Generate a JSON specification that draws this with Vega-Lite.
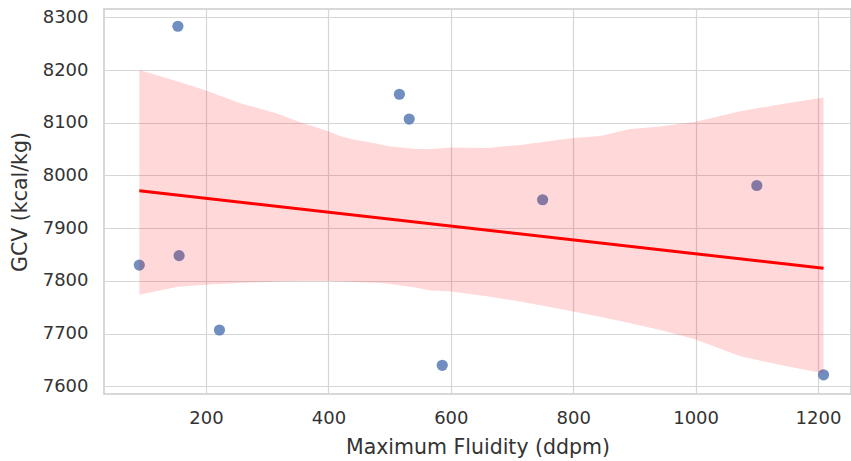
{
  "$schema": "https://vega.github.io/schema/vega-lite/v6.json",
  "autosize": "none",
  "width": 747,
  "height": 385,
  "padding": {"left": 104, "top": 9, "right": 0, "bottom": 67},
  "background": "white",
  "config": {
    "view": {"stroke": "#cccccc", "strokeWidth": 1.5},
    "font": "DejaVu Sans",
    "axis": {
      "labelFont": "DejaVu Sans",
      "titleFont": "DejaVu Sans",
      "labelFontSize": 18,
      "titleFontSize": 20.5,
      "titleFontWeight": "normal",
      "labelColor": "#333333",
      "titleColor": "#333333",
      "gridColor": "#d6d6d6",
      "gridWidth": 1.2,
      "gridOpacity": 1,
      "ticks": false,
      "domain": false,
      "format": "d"
    }
  },
  "datasets": {
    "points": [
      {"fluidity": 154, "gcv": 8283},
      {"fluidity": 516, "gcv": 8154},
      {"fluidity": 532, "gcv": 8107},
      {"fluidity": 750, "gcv": 7954},
      {"fluidity": 1100, "gcv": 7981},
      {"fluidity": 91, "gcv": 7830},
      {"fluidity": 156, "gcv": 7848},
      {"fluidity": 222, "gcv": 7707},
      {"fluidity": 586, "gcv": 7640},
      {"fluidity": 1209, "gcv": 7622}
    ],
    "band": [
      {"fluidity": 91, "lo": 7774, "hi": 8200},
      {"fluidity": 154, "lo": 7789, "hi": 8178},
      {"fluidity": 200, "lo": 7793, "hi": 8161},
      {"fluidity": 256, "lo": 7796, "hi": 8137},
      {"fluidity": 315, "lo": 7799, "hi": 8118},
      {"fluidity": 354, "lo": 7800, "hi": 8101},
      {"fluidity": 400, "lo": 7800, "hi": 8084},
      {"fluidity": 419, "lo": 7799, "hi": 8075},
      {"fluidity": 441, "lo": 7798, "hi": 8068},
      {"fluidity": 463, "lo": 7797, "hi": 8064},
      {"fluidity": 484, "lo": 7796, "hi": 8059},
      {"fluidity": 501, "lo": 7794, "hi": 8055},
      {"fluidity": 544, "lo": 7787, "hi": 8050},
      {"fluidity": 566, "lo": 7782, "hi": 8050},
      {"fluidity": 600, "lo": 7780, "hi": 8053},
      {"fluidity": 659, "lo": 7771, "hi": 8052},
      {"fluidity": 713, "lo": 7761, "hi": 8058},
      {"fluidity": 800, "lo": 7742, "hi": 8071},
      {"fluidity": 844, "lo": 7732, "hi": 8075},
      {"fluidity": 893, "lo": 7720, "hi": 8088},
      {"fluidity": 942, "lo": 7707, "hi": 8093},
      {"fluidity": 1000, "lo": 7689, "hi": 8102},
      {"fluidity": 1073, "lo": 7657, "hi": 8122},
      {"fluidity": 1149, "lo": 7638, "hi": 8137},
      {"fluidity": 1209, "lo": 7625, "hi": 8148}
    ],
    "fit": [
      {"fluidity": 91, "gcv": 7971},
      {"fluidity": 1209, "gcv": 7824}
    ]
  },
  "layer": [
    {
      "data": {"name": "points"},
      "mark": {"type": "circle", "size": 125, "color": "#4c72b0", "opacity": 0.8},
      "encoding": {
        "x": {
          "field": "fluidity", "type": "quantitative",
          "scale": {"domain": [33.3, 1253.9], "nice": false, "zero": false},
          "axis": {"values": [200, 400, 600, 800, 1000, 1200], "title": "Maximum Fluidity (ddpm)", "labelPadding": 15, "titlePadding": 10}
        },
        "y": {
          "field": "gcv", "type": "quantitative",
          "scale": {"domain": [7585.6, 8315.7], "nice": false, "zero": false},
          "axis": {"values": [7600, 7700, 7800, 7900, 8000, 8100, 8200, 8300], "title": "GCV (kcal/kg)", "labelPadding": 16, "titlePadding": 12}
        }
      }
    },
    {
      "data": {"name": "band"},
      "mark": {"type": "area", "color": "#ff0000", "opacity": 0.15},
      "encoding": {
        "x": {"field": "fluidity", "type": "quantitative"},
        "y": {"field": "lo", "type": "quantitative"},
        "y2": {"field": "hi"}
      }
    },
    {
      "data": {"name": "fit"},
      "mark": {"type": "line", "color": "#ff0000", "strokeWidth": 3},
      "encoding": {
        "x": {"field": "fluidity", "type": "quantitative"},
        "y": {"field": "gcv", "type": "quantitative"}
      }
    }
  ]
}
